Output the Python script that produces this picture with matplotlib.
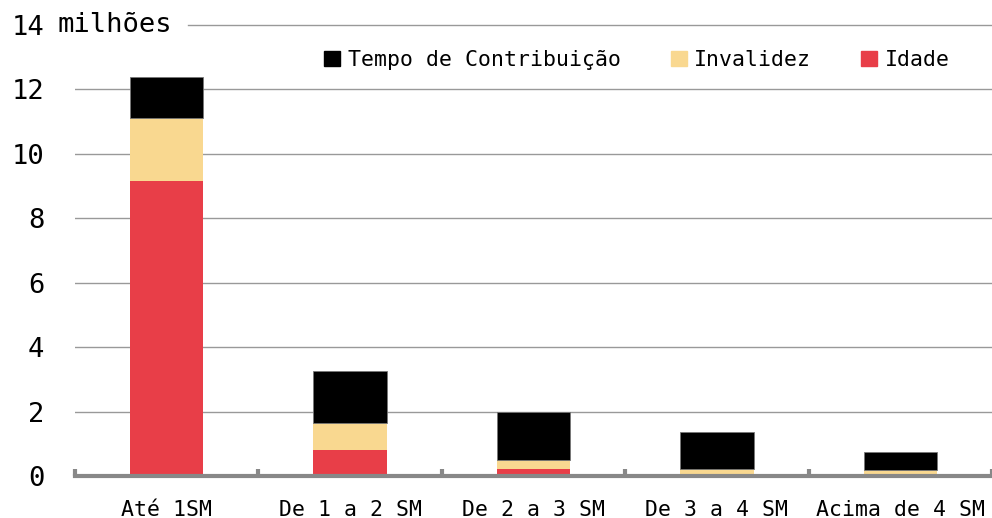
import numpy as np
import matplotlib
matplotlib.use("Agg")
import matplotlib.pyplot as plt
from matplotlib.patches import Patch

plt.rcParams['font.family'] = ['DejaVu Sans Mono']

categorias = ["Até 1SM", "De 1 a 2 SM", "De 2 a 3 SM", "De 3 a 4 SM", "Acima de 4 SM"]
idade = [9.16, 0.81, 0.23, 0.05, 0.05]
invalidez = [1.96, 0.84, 0.27, 0.17, 0.15]
tempo_contrib = [1.27, 1.61, 1.49, 1.15, 0.55]

cor_idade = "#E83E48"
cor_invalidez = "#F9D890"
cor_tempo = "#000000"
cinza = "#888888"

fig = plt.figure(figsize=(9.92, 5.18), dpi=100)
ax = fig.add_axes([0.0756, 0.081, 0.9244, 0.871])

x = np.arange(len(categorias))
w = 0.4
base2 = np.array(idade) + np.array(invalidez)
ax.bar(x, idade, w, color=cor_idade, zorder=3)
ax.bar(x, invalidez, w, bottom=idade, color=cor_invalidez, zorder=3)
ax.bar(x, tempo_contrib, w, bottom=base2, color=cor_tempo,
       edgecolor="#777777", linewidth=0.6, zorder=3)

ax.set_xlim(-0.5, len(categorias) - 0.5)
ax.set_ylim(0, 14)

# grid lines
for v in range(2, 13, 2):
    ax.axhline(v, color="#999999", linewidth=1, zorder=1)
ax.axhline(14, xmin=0.123, color="#999999", linewidth=1, zorder=1, clip_on=False)

ax.set_yticks(range(0, 15, 2))
ax.set_yticklabels([str(v) for v in range(0, 15, 2)])
ax.tick_params(axis="y", length=0, pad=22, labelsize=19.5)
fig.text(0.058, 0.952, "milhões", fontsize=19.5, va="center", ha="left")

ax.set_xticks(x)
ax.set_xticklabels(categorias)
ax.tick_params(axis="x", which="major", length=0, pad=17, labelsize=15.5)
ax.set_xticks(np.arange(len(categorias) + 1) - 0.5, minor=True)
ax.tick_params(axis="x", which="minor", direction="in", length=5, width=3, color=cinza)

for s in ["left", "right", "top"]:
    ax.spines[s].set_visible(False)
ax.spines["bottom"].set_color(cinza)
ax.spines["bottom"].set_linewidth(3)
ax.spines["bottom"].set_zorder(4)

handles = [Patch(color=cor_tempo), Patch(color=cor_invalidez), Patch(color=cor_idade)]
labels = ["Tempo de Contribuição", "Invalidez", "Idade"]
fig.legend(handles, labels, loc="center", bbox_to_anchor=(0.642, 0.884), ncol=3,
           frameon=False, fontsize=15.5, handlelength=0.75, handleheight=0.75,
           handletextpad=0.35, columnspacing=2.3)

fig.savefig("out.png", dpi=100)
